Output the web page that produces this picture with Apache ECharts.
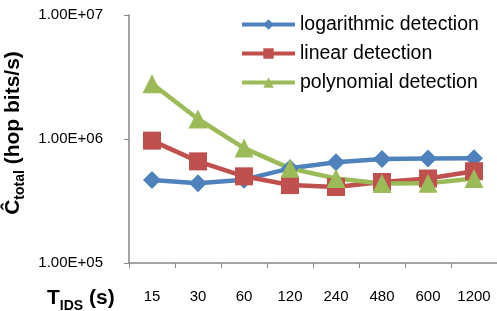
<!DOCTYPE html>
<html>
<head>
<meta charset="utf-8">
<script src="https://cdn.jsdelivr.net/npm/echarts@6/dist/echarts.min.js"></script>
<style>
  html, body { margin: 0; padding: 0; background: #fff; }
  #chart { width: 497px; height: 311px; }
</style>
</head>
<body>
<div id="chart"></div>
<script>
var periods = ['15', '30', '60', '120', '240', '480', '600', '1200']
var logDetection = [468000, 440000, 470000, 580000, 650000, 690000, 697000, 700000]
var linDetection = [970000, 660000, 500000, 425000, 410000, 450000, 480000, 550000]
var polyDetection = [2790000, 1450000, 845000, 580000, 480000, 437000, 440000, 480000]

var font = 'Liberation Sans'
var axisGray = '#868686'

var myChart = echarts.init(document.getElementById('chart'))

function makeSeries(name, data, color, symbol, size) {
  return {
    name: name,
    type: 'line',
    data: data,
    symbol: symbol,
    symbolSize: size,
    lineStyle: { color: color, width: 4.5 },
    itemStyle: { color: color },
    animation: false
  }
}

myChart.setOption({
  backgroundColor: '#fff',
  grid: { left: 129, right: 0, top: 15, bottom: 48, outerBoundsMode: 'none' },
  legend: {
    orient: 'vertical',
    left: 240,
    top: 14,
    padding: 0,
    itemWidth: 53,
    itemHeight: 13,
    itemGap: 8,
    lineStyle: { width: 4 },
    textStyle: { fontFamily: font, fontSize: 19.5, color: '#000', lineHeight: 21 },
    data: ['logarithmic detection', 'linear detection', 'polynomial detection']
  },
  xAxis: {
    type: 'category',
    data: periods,
    boundaryGap: true,
    axisLine: { lineStyle: { color: axisGray, width: 1.5 } },
    axisTick: { show: true, length: 5, inside: false, lineStyle: { color: axisGray } },
    axisLabel: { fontFamily: font, fontSize: 15, color: '#000', margin: 26 }
  },
  yAxis: {
    type: 'log',
    logBase: 10,
    min: 100000,
    max: 10000000,
    splitLine: { show: false },
    minorTick: { show: false },
    axisLine: { show: true, lineStyle: { color: axisGray, width: 1.5 } },
    axisTick: { show: true, length: 5, lineStyle: { color: axisGray } },
    axisLabel: {
      fontFamily: font,
      fontSize: 15,
      color: '#000',
      margin: 26,
      formatter: function(v) {
        return v.toExponential(2).toUpperCase().replace('E+', 'E+0')
      }
    },
    name: '{b|Ĉ}{s|total}{b| (hop bits/s)}',
    nameLocation: 'middle',
    nameRotate: 90,
    nameGap: 96,
    nameTextStyle: {
      padding: [0, 0, 0, 12],
      rich: {
        b: { fontFamily: font, fontSize: 21, fontWeight: 'bold', color: '#000', verticalAlign: 'bottom' },
        s: { fontFamily: font, fontSize: 14, fontWeight: 'bold', color: '#000', verticalAlign: 'bottom', padding: [0, 0, -4, 0] }
      }
    }
  },
  graphic: [
    {
      type: 'text',
      left: 47,
      top: 288,
      style: {
        text: '{b|T}{s|IDS}{b| (s)}',
        rich: {
          b: { fontFamily: font, fontSize: 21, fontWeight: 'bold', fill: '#000', verticalAlign: 'bottom' },
          s: { fontFamily: font, fontSize: 14, fontWeight: 'bold', fill: '#000', verticalAlign: 'bottom', padding: [0, 0, -4, 0] }
        }
      }
    }
  ],
  series: [
    makeSeries('logarithmic detection', logDetection, '#4F81BD', 'diamond', 18),
    makeSeries('linear detection', linDetection, '#C0504D', 'rect', 18),
    makeSeries('polynomial detection', polyDetection, '#9BBB59', 'triangle', 19)
  ]
})
</script>
</body>
</html>
